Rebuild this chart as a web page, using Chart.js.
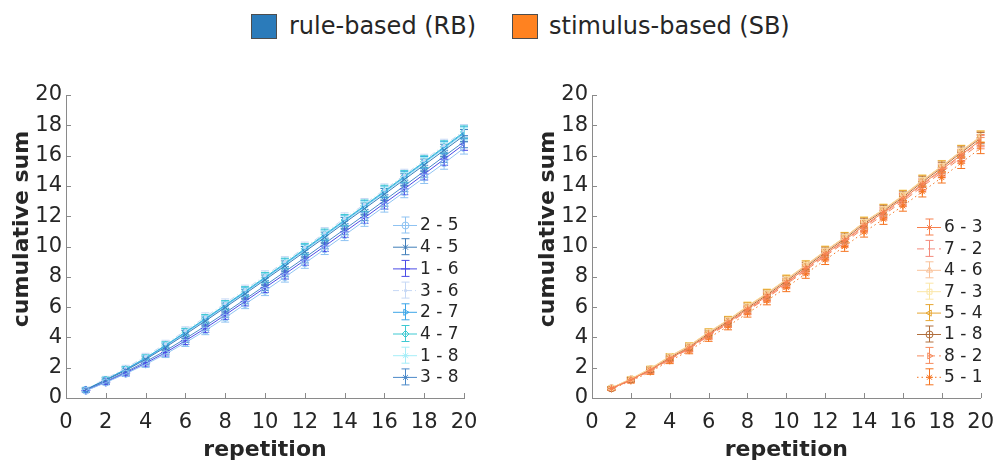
<!DOCTYPE html>
<html>
<head>
<meta charset="utf-8">
<script src="https://cdn.jsdelivr.net/npm/chart.js@4.4.1/dist/chart.umd.min.js"></script>
<style>
  body { margin: 0; background: #fff; width: 1006px; height: 463px; overflow: hidden; position: relative;
         font-family: "DejaVu Sans", Verdana, sans-serif; color: #262626; }
  .box { position: absolute; top: 14px; width: 26px; height: 25px; border: 1px solid #4d4d4d; box-sizing: border-box; }
  .lbl { position: absolute; top: 12px; height: 28px; line-height: 28px; font-size: 24px; white-space: nowrap; }
  .panel { position: absolute; top: 60px; width: 503px; height: 403px; }
</style>
</head>
<body>
<div class="box" style="left:251px;background:#2b7bba"></div>
<div class="lbl" style="left:289px">rule-based (RB)</div>
<div class="box" style="left:512px;background:#ff8220"></div>
<div class="lbl" style="left:549px">stimulus-based (SB)</div>

<div class="panel" style="left:0"><canvas id="rbChart" width="503" height="403"></canvas></div>
<div class="panel" style="left:503px"><canvas id="sbChart" width="503" height="403"></canvas></div>

<script>
// x values and tick labels
const reps = [1, 2, 3, 4, 5, 6, 7, 8, 9, 10, 11, 12, 13, 14, 15, 16, 17, 18, 19, 20];
const axisTicks = [0, 2, 4, 6, 8, 10, 12, 14, 16, 18, 20];

// rule-based (RB) panel
const rbLabels = ["2 - 5", "4 - 5", "1 - 6", "3 - 6", "2 - 7", "4 - 7", "1 - 8", "3 - 8"];
const rb25 = [0.48, 1.02, 1.6, 2.22, 2.9, 3.65, 4.45, 5.3, 6.2, 7.08, 7.98, 8.9, 9.82, 10.75, 11.7, 12.65, 13.6, 14.55, 15.5, 16.5];
const rb45 = [0.55, 1.18, 1.82, 2.55, 3.35, 4.2, 5.08, 5.98, 6.88, 7.8, 8.72, 9.66, 10.6, 11.56, 12.5, 13.45, 14.42, 15.38, 16.35, 17.32];
const rb16 = [0.5, 1.05, 1.65, 2.3, 3.0, 3.78, 4.6, 5.48, 6.38, 7.28, 8.18, 9.1, 10.02, 10.96, 11.9, 12.85, 13.8, 14.78, 15.76, 16.75];
const rb36 = [0.6, 1.28, 1.98, 2.75, 3.58, 4.45, 5.35, 6.25, 7.15, 8.08, 9.0, 9.95, 10.9, 11.86, 12.8, 13.75, 14.72, 15.7, 16.68, 17.65];
const rb27 = [0.55, 1.2, 1.88, 2.62, 3.45, 4.32, 5.2, 6.1, 7.0, 7.92, 8.85, 9.8, 10.74, 11.7, 12.65, 13.6, 14.58, 15.55, 16.52, 17.5];
const rb47 = [0.56, 1.22, 1.9, 2.65, 3.48, 4.35, 5.24, 6.14, 7.05, 7.97, 8.9, 9.85, 10.8, 11.75, 12.7, 13.66, 14.63, 15.6, 16.58, 17.56];
const rb18 = [0.54, 1.18, 1.85, 2.58, 3.4, 4.27, 5.15, 6.05, 6.95, 7.87, 8.8, 9.74, 10.68, 11.64, 12.58, 13.54, 14.5, 15.48, 16.45, 17.42];
const rb38 = [0.52, 1.1, 1.72, 2.4, 3.12, 3.92, 4.75, 5.62, 6.52, 7.42, 8.34, 9.26, 10.2, 11.14, 12.08, 13.04, 14.0, 14.97, 15.95, 16.92];
const rbErr = [0.12, 0.15, 0.18, 0.2, 0.23, 0.25, 0.27, 0.29, 0.3, 0.32, 0.33, 0.34, 0.35, 0.36, 0.37, 0.38, 0.38, 0.39, 0.4, 0.4];

// stimulus-based (SB) panel
const sbLabels = ["6 - 3", "7 - 2", "4 - 6", "7 - 3", "5 - 4", "1 - 8", "8 - 2", "5 - 1"];
const sb63 = [0.63, 1.2, 1.84, 2.6, 3.3, 4.18, 4.98, 5.86, 6.72, 7.62, 8.55, 9.5, 10.4, 11.38, 12.25, 13.15, 14.12, 15.08, 16.05, 17.02];
const sb72 = [0.62, 1.18, 1.8, 2.56, 3.26, 4.12, 4.92, 5.8, 6.66, 7.58, 8.5, 9.44, 10.34, 11.32, 12.18, 13.08, 14.06, 15.0, 15.98, 16.95];
const sb46 = [0.66, 1.25, 1.92, 2.72, 3.42, 4.32, 5.12, 6.02, 6.88, 7.8, 8.74, 9.68, 10.58, 11.58, 12.42, 13.32, 14.32, 15.28, 16.28, 17.22];
const sb73 = [0.67, 1.27, 1.95, 2.76, 3.46, 4.36, 5.16, 6.08, 6.92, 7.85, 8.78, 9.72, 10.62, 11.62, 12.46, 13.38, 14.38, 15.32, 16.32, 17.28];
const sb54 = [0.66, 1.26, 1.93, 2.74, 3.44, 4.34, 5.14, 6.05, 6.9, 7.82, 8.75, 9.7, 10.6, 11.6, 12.44, 13.35, 14.35, 15.3, 16.3, 17.25];
const sb18 = [0.64, 1.22, 1.88, 2.66, 3.36, 4.25, 5.05, 5.95, 6.8, 7.72, 8.65, 9.6, 10.5, 11.5, 12.35, 13.25, 14.25, 15.2, 16.2, 17.15];
const sb82 = [0.62, 1.17, 1.8, 2.55, 3.24, 4.1, 4.9, 5.76, 6.6, 7.5, 8.42, 9.36, 10.26, 11.22, 12.08, 12.98, 13.95, 14.9, 15.86, 16.82];
const sb51 = [0.6, 1.12, 1.72, 2.45, 3.12, 3.96, 4.74, 5.6, 6.42, 7.3, 8.2, 9.12, 10.0, 10.95, 11.8, 12.68, 13.62, 14.55, 15.52, 16.5];
const sbErr = [0.1, 0.13, 0.16, 0.18, 0.2, 0.22, 0.24, 0.26, 0.27, 0.28, 0.3, 0.31, 0.32, 0.33, 0.34, 0.35, 0.35, 0.36, 0.37, 0.37];

const textColor = "#262626";
const axisColor = "#8a8a8a";
const fontFamily = "'DejaVu Sans', Verdana, sans-serif";

function series(label, vals, err, color, style) {
  return Object.assign({
    label: label,
    data: reps.map((r, i) => ({ x: r, y: vals[i] })),
    errorBars: err,
    borderColor: color,
    backgroundColor: color,
    borderWidth: 1,
    pointBorderColor: color,
    pointBackgroundColor: "rgba(0,0,0,0)",
    pointBorderWidth: 1,
    pointRadius: 3.5,
    pointStyle: "circle",
    pointRotation: 0,
    tension: 0,
    fill: false
  }, style || {});
}

const rbSets = [
  series(rbLabels[0], rb25, rbErr, "#8fc3f2", { pointStyle: "circle" }),
  series(rbLabels[1], rb45, rbErr, "#3f7db9", { pointStyle: "crossRot" }),
  series(rbLabels[2], rb16, rbErr, "#4b4be6", { pointStyle: "cross", pointRadius: 4.5 }),
  series(rbLabels[3], rb36, rbErr, "#c6d8f5", { pointStyle: "circle", pointRadius: 1.2, pointBackgroundColor: "#c6d8f5", borderDash: [6, 3, 1, 3] }),
  series(rbLabels[4], rb27, rbErr, "#3ca6e8", { pointStyle: "triangle", pointRotation: 90 }),
  series(rbLabels[5], rb47, rbErr, "#3ec9d2", { pointStyle: "rectRot" }),
  series(rbLabels[6], rb18, rbErr, "#a6eef8", { pointStyle: "star" }),
  series(rbLabels[7], rb38, rbErr, "#4b89c9", { pointStyle: "star" })
];

const sbSets = [
  series(sbLabels[0], sb63, sbErr, "#f7804e", { pointStyle: "star" }),
  series(sbLabels[1], sb72, sbErr, "#f48a7c", { pointRadius: 0, borderDash: [7, 4] }),
  series(sbLabels[2], sb46, sbErr, "#f9c29a", { pointStyle: "triangle" }),
  series(sbLabels[3], sb73, sbErr, "#fbe6a6", { pointStyle: "rect" }),
  series(sbLabels[4], sb54, sbErr, "#e6a632", { pointStyle: "triangle", pointRotation: -90 }),
  series(sbLabels[5], sb18, sbErr, "#b06e3c", { pointStyle: "circle" }),
  series(sbLabels[6], sb82, sbErr, "#f68a5c", { pointStyle: "triangle", pointRotation: 90, borderDash: [7, 4] }),
  series(sbLabels[7], sb51, sbErr, "#f57420", { pointStyle: "star", borderDash: [1.5, 3] })
];

function marker(ctx, ds, x, y) {
  if (!ds.pointRadius) return;
  Chart.helpers.drawPoint(ctx, {
    pointStyle: ds.pointStyle, rotation: ds.pointRotation,
    radius: ds.pointRadius, borderWidth: 1
  }, x, y);
}

// error bars, inward ticks, y title and the inline legend
const decor = {
  id: "decor",
  beforeDatasetsDraw(chart) {
    const ctx = chart.ctx;
    const ys = chart.scales.y;
    chart.data.datasets.forEach((ds, di) => {
      const meta = chart.getDatasetMeta(di);
      ctx.save();
      ctx.strokeStyle = ds.borderColor;
      ctx.lineWidth = 1;
      meta.data.forEach((pt, i) => {
        const v = ds.data[i].y, e = ds.errorBars[i];
        const top = ys.getPixelForValue(v + e), bot = ys.getPixelForValue(v - e);
        ctx.beginPath();
        ctx.moveTo(pt.x, top); ctx.lineTo(pt.x, bot);
        ctx.moveTo(pt.x - 4, top); ctx.lineTo(pt.x + 4, top);
        ctx.moveTo(pt.x - 4, bot); ctx.lineTo(pt.x + 4, bot);
        ctx.stroke();
      });
      ctx.restore();
    });
  },
  afterDraw(chart, args, opts) {
    const ctx = chart.ctx;
    const xs = chart.scales.x, ys = chart.scales.y;
    const area = chart.chartArea;
    ctx.save();
    ctx.strokeStyle = axisColor;
    ctx.lineWidth = 1;
    ctx.beginPath();
    axisTicks.forEach(t => {
      const px = Math.round(xs.getPixelForValue(t)) + 0.5;
      ctx.moveTo(px, area.bottom); ctx.lineTo(px, area.bottom - 5);
      const py = Math.round(ys.getPixelForValue(t)) + 0.5;
      ctx.moveTo(area.left, py); ctx.lineTo(area.left + 5, py);
    });
    ctx.stroke();

    // y axis title
    ctx.fillStyle = textColor;
    ctx.font = "bold 22px " + fontFamily;
    ctx.textAlign = "center";
    ctx.textBaseline = "middle";
    ctx.translate(opts.titleX, opts.titleY);
    ctx.rotate(-Math.PI / 2);
    ctx.fillText("cumulative sum", 0, 0);
    ctx.restore();

    // legend inside the plot
    ctx.save();
    chart.data.datasets.forEach((ds, i) => {
      const y = opts.legendY + i * opts.legendStep;
      const x0 = opts.legendX, xm = x0 + 12;
      ctx.strokeStyle = ds.borderColor;
      ctx.fillStyle = ds.pointBackgroundColor;
      ctx.lineWidth = 1;
      ctx.setLineDash(ds.borderDash || []);
      ctx.beginPath(); ctx.moveTo(x0, y + 0.5); ctx.lineTo(x0 + 24, y + 0.5); ctx.stroke();
      ctx.setLineDash([]);
      ctx.beginPath();
      ctx.moveTo(xm + 0.5, y - 8); ctx.lineTo(xm + 0.5, y + 8);
      ctx.moveTo(xm - 3.5, y - 8); ctx.lineTo(xm + 4.5, y - 8);
      ctx.moveTo(xm - 3.5, y + 8); ctx.lineTo(xm + 4.5, y + 8);
      ctx.stroke();
      marker(ctx, ds, xm + 0.5, y + 0.5);
      ctx.fillStyle = textColor;
      ctx.font = "17px " + fontFamily;
      ctx.textAlign = "left";
      ctx.textBaseline = "middle";
      ctx.fillText(ds.label, x0 + 27, y + 1);
    });
    ctx.restore();
  }
};

function makeChart(id, datasets, yWidth, padRight, deco) {
  const tickFont = { family: fontFamily, size: 21 };
  return new Chart(document.getElementById(id), {
    type: "line",
    data: { datasets: datasets },
    plugins: [decor],
    options: {
      responsive: false,
      animation: false,
      events: [],
      layout: { padding: { top: 35, right: padRight, left: 0, bottom: 0 } },
      plugins: { legend: { display: false }, tooltip: { enabled: false }, decor: deco },
      scales: {
        x: {
          type: "linear", min: 0, max: 20,
          ticks: { stepSize: 2, padding: 12, color: textColor, font: tickFont, maxRotation: 0 },
          grid: { display: false, drawTicks: false },
          border: { display: true, color: axisColor, width: 1 },
          title: { display: true, text: "repetition", color: textColor,
                   font: { family: fontFamily, size: 22, weight: "bold" }, padding: { top: 0, bottom: 0 } },
          afterFit: s => { s.height = 65; }
        },
        y: {
          type: "linear", min: 0, max: 20,
          ticks: { stepSize: 2, padding: 4, color: textColor, font: tickFont },
          grid: { display: false, drawTicks: false },
          border: { display: true, color: axisColor, width: 1 },
          afterFit: s => { s.width = yWidth; }
        }
      }
    }
  });
}

makeChart("rbChart", rbSets, 66, 39, { titleX: 22, titleY: 169, legendX: 393, legendY: 165, legendStep: 21.7 });
makeChart("sbChart", sbSets, 89, 16, { titleX: 45, titleY: 169, legendX: 414, legendY: 167, legendStep: 21.4 });
</script>
</body>
</html>
